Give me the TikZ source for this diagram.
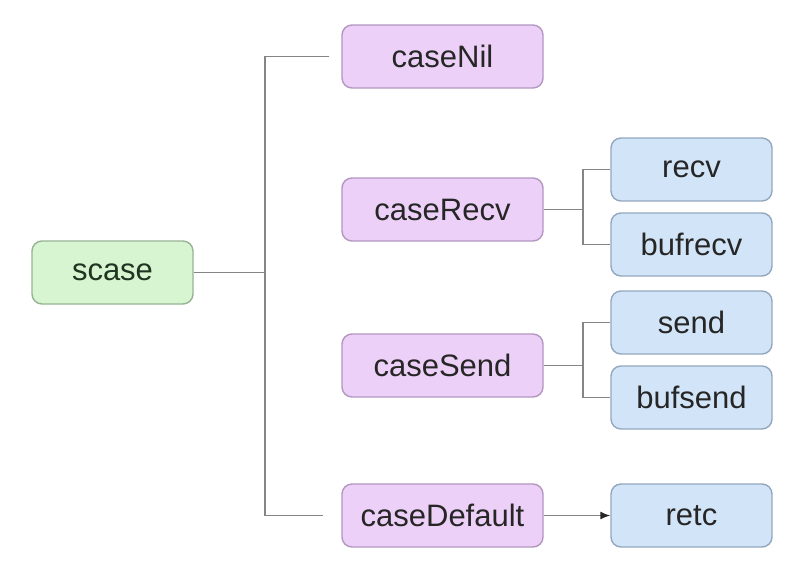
\documentclass[tikz,border=0pt]{standalone}
\usepackage{fontspec}
\setmainfont{Liberation Sans}
\usetikzlibrary{arrows.meta}
\definecolor{rootfill}{HTML}{D8F5D2}
\definecolor{rootdraw}{HTML}{97B394}
\definecolor{casefill}{HTML}{EDD0F7}
\definecolor{casedraw}{HTML}{B397C0}
\definecolor{leaffill}{HTML}{D2E4F7}
\definecolor{leafdraw}{HTML}{93A7BF}
\definecolor{linkgray}{HTML}{858585}
\definecolor{inktext}{HTML}{262626}
\definecolor{rootink}{HTML}{203422}
\tikzset{
  box/.style={rectangle, rounded corners=10pt, line width=1.4pt,
    minimum height=63pt, inner sep=0pt, text=inktext,
    font=\fontsize{31}{37}\selectfont},
  rootbox/.style={box, fill=rootfill, draw=rootdraw, minimum width=161pt, text=rootink},
  casebox/.style={box, fill=casefill, draw=casedraw, minimum width=201pt},
  leafbox/.style={box, fill=leaffill, draw=leafdraw, minimum width=161pt},
  conn/.style={draw=linkgray, line width=1.5pt},
  tip/.style={-{Latex[length=10pt,width=8pt,color=inktext]}},
}
\begin{document}
\begin{tikzpicture}[x=1pt,y=-1pt]
  \useasboundingbox[fill=white] (0,0) rectangle (791,567);

  % nodes
  \node[rootbox] (scase) at (112.5,272.5) {scase};
  \node[casebox] (caseNil) at (442.5,56.5) {caseNil};
  \node[casebox] (caseRecv) at (442.5,209.5) {caseRecv};
  \node[casebox] (caseSend) at (442.5,365.5) {caseSend};
  \node[casebox] (caseDefault) at (442.5,515.5) {caseDefault};
  \node[leafbox] (recv) at (691.5,169.5) {recv};
  \node[leafbox] (bufrecv) at (691.5,244.5) {bufrecv};
  \node[leafbox] (send) at (691.5,322.5) {send};
  \node[leafbox] (bufsend) at (691.5,397.5) {bufsend};
  \node[leafbox] (retc) at (691.5,515.5) {retc};

  % junction columns
  \coordinate (trunk) at (265,0);
  \coordinate (fork) at (583,0);

  % main trunk
  \draw[conn] (scase.east) -- (scase.east -| trunk);
  \draw[conn] ([xshift=-12pt]caseNil.west) -| (trunk |- caseDefault.west)
              -- ([xshift=-18pt]caseDefault.west);

  % receive branch
  \draw[conn] (caseRecv.east) -- (caseRecv.east -| fork);
  \draw[conn] (recv.west) -| (fork |- bufrecv.west) -- (bufrecv.west);

  % send branch
  \draw[conn] (caseSend.east) -- (caseSend.east -| fork);
  \draw[conn] (send.west) -| (fork |- bufsend.west) -- (bufsend.west);

  % default branch
  \draw[conn, tip] (caseDefault.east) -- (retc.west);
\end{tikzpicture}
\end{document}
